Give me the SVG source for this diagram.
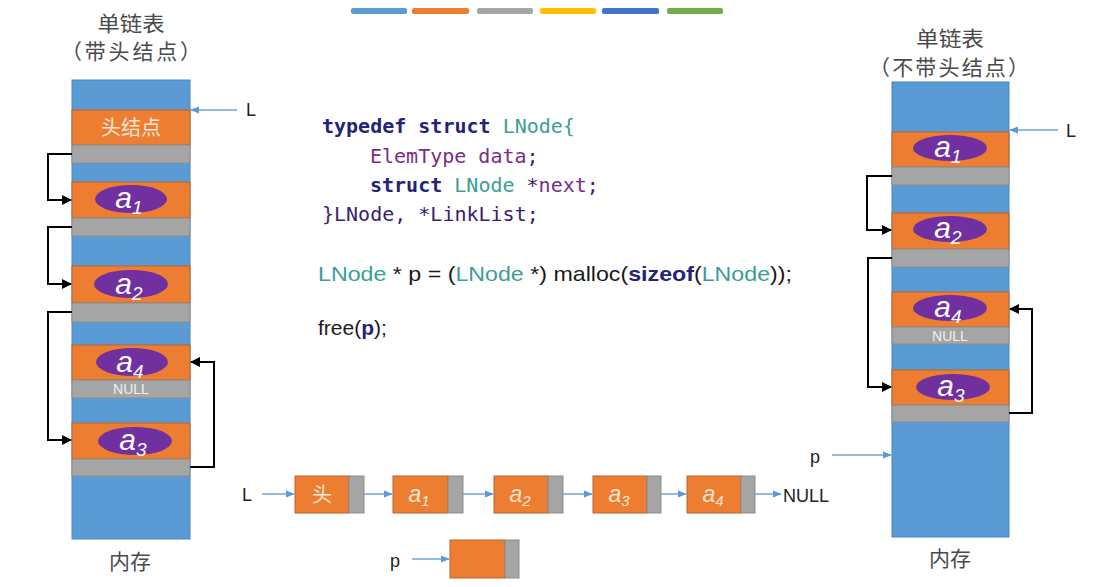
<svg xmlns="http://www.w3.org/2000/svg" width="1111" height="587" viewBox="0 0 1111 587">
<style>
.blue{fill:#5b9bd5;stroke:#4a86bd;stroke-width:1}
.org{fill:#ed7d31;stroke:#b9652a;stroke-width:1}
.gry{fill:#a5a5a5;stroke:#8c8c8c;stroke-width:1}
.ell{fill:#7030a0}
.al{font-family:"Liberation Sans",Arial,sans-serif;font-style:italic;font-size:30px;fill:#ffffff;text-anchor:middle}
.null{font-family:"Liberation Sans",Arial,sans-serif;font-size:14px;fill:#f0f0f0;text-anchor:middle}
.ttl{font-family:"Liberation Sans","Noto Sans CJK SC",sans-serif;font-size:21px;fill:#4a4a4a;text-anchor:middle}
.lbl{font-family:"Liberation Sans",Arial,sans-serif;font-size:18px;fill:#222;text-anchor:middle}
.code{font-family:"DejaVu Sans Mono","Liberation Mono",monospace;font-size:20px}
.kw{fill:#23237a;font-weight:bold}
.ty{fill:#3a9e96}
.vr{fill:#7b2a8c}
.dk{fill:#3b2070}
.c2{font-family:"Liberation Sans",Arial,sans-serif;font-size:21px;fill:#1a1a1a}
.bl{fill:none;stroke:#000;stroke-width:2}
.ba{fill:none;stroke:#6fa3d6;stroke-width:1.5}
.bx{font-family:"Liberation Sans","Noto Sans CJK SC",sans-serif;font-size:20px;fill:#fbe5d6;text-anchor:middle}
.bxa{font-family:"Liberation Sans",Arial,sans-serif;font-style:italic;font-size:23px;fill:#fbe5d6;text-anchor:middle}
</style>
<defs>
<marker id="ah" viewBox="0 0 10 10" refX="9" refY="5" markerWidth="5" markerHeight="5" orient="auto"><path d="M0,0 L10,5 L0,10 z" fill="#000"/></marker>
<marker id="bh" viewBox="0 0 10 10" refX="9" refY="5" markerWidth="6" markerHeight="6" orient="auto"><path d="M0,1 L10,5 L0,9 z" fill="#5b9bd5"/></marker>
</defs>
<rect width="1111" height="587" fill="#ffffff"/>

<g id="colorbar">
<rect x="351" y="8" width="56" height="6" rx="2" fill="#5b9bd5"/>
<rect x="412" y="8" width="57" height="6" rx="2" fill="#ed7d31"/>
<rect x="477" y="8" width="56" height="6" rx="2" fill="#a5a5a5"/>
<rect x="540" y="8" width="56" height="6" rx="2" fill="#ffc000"/>
<rect x="602" y="8" width="57" height="6" rx="2" fill="#4472c4"/>
<rect x="667" y="8" width="56" height="6" rx="2" fill="#70ad47"/>
</g>

<g id="left-memory">
<text class="ttl" x="131" y="31" textLength="67" lengthAdjust="spacingAndGlyphs">单链表</text>
<text class="ttl" x="131" y="59" textLength="140" lengthAdjust="spacing">（带头结点）</text>
<rect class="blue" x="72" y="80" width="118" height="459"/>
<rect class="org" x="72" y="110" width="118" height="35"/>
<text class="bx" x="131" y="135">头结点</text>
<rect class="gry" x="72" y="145" width="118" height="18"/>
<rect class="org" x="72" y="182" width="118" height="36"/>
<ellipse class="ell" cx="131" cy="199" rx="36" ry="14"/>
<text class="al" x="129" y="208">a<tspan font-size="19" dy="6">1</tspan></text>
<rect class="gry" x="72" y="218" width="118" height="18"/>
<rect class="org" x="72" y="266" width="118" height="37"/>
<ellipse class="ell" cx="131" cy="284" rx="37" ry="14"/>
<text class="al" x="129" y="294">a<tspan font-size="19" dy="6">2</tspan></text>
<rect class="gry" x="72" y="303" width="118" height="19"/>
<rect class="org" x="72" y="345" width="118" height="35"/>
<ellipse class="ell" cx="132" cy="362" rx="36" ry="14"/>
<text class="al" x="130" y="372">a<tspan font-size="19" dy="6">4</tspan></text>
<rect class="gry" x="72" y="380" width="118" height="18"/>
<text class="null" x="131" y="394">NULL</text>
<rect class="org" x="72" y="423" width="118" height="36"/>
<ellipse class="ell" cx="135" cy="441" rx="37" ry="14"/>
<text class="al" x="133" y="450">a<tspan font-size="19" dy="6">3</tspan></text>
<rect class="gry" x="72" y="459" width="118" height="17"/>
<text class="ttl" x="130" y="569">内存</text>
<text class="lbl" x="251" y="116">L</text>
</g>

<g id="right-memory">
<text class="ttl" x="950" y="46" textLength="68" lengthAdjust="spacingAndGlyphs">单链表</text>
<text class="ttl" x="949" y="75" textLength="160" lengthAdjust="spacing">（不带头结点）</text>
<rect class="blue" x="892" y="82" width="117" height="455"/>
<rect class="org" x="892" y="132" width="117" height="35"/>
<ellipse class="ell" cx="950" cy="148" rx="37" ry="13"/>
<text class="al" x="948" y="157">a<tspan font-size="19" dy="6">1</tspan></text>
<rect class="gry" x="892" y="167" width="117" height="18"/>
<rect class="org" x="892" y="213" width="117" height="36"/>
<ellipse class="ell" cx="950" cy="229" rx="37" ry="13"/>
<text class="al" x="948" y="238">a<tspan font-size="19" dy="6">2</tspan></text>
<rect class="gry" x="892" y="249" width="117" height="18"/>
<rect class="org" x="892" y="292" width="117" height="35"/>
<ellipse class="ell" cx="950" cy="308" rx="37" ry="13"/>
<text class="al" x="948" y="317">a<tspan font-size="19" dy="6">4</tspan></text>
<rect class="gry" x="892" y="327" width="117" height="17"/>
<text class="null" x="950" y="341">NULL</text>
<rect class="org" x="892" y="370" width="117" height="35"/>
<ellipse class="ell" cx="953" cy="387" rx="37" ry="13"/>
<text class="al" x="951" y="396">a<tspan font-size="19" dy="6">3</tspan></text>
<rect class="gry" x="892" y="405" width="117" height="17"/>
<text class="ttl" x="950" y="566">内存</text>
<text class="lbl" x="1071" y="137">L</text>
<text class="lbl" x="815" y="463">p</text>
</g>

<g id="code">
<text class="code" x="322" y="133"><tspan class="kw">typedef struct</tspan> <tspan class="ty">LNode</tspan><tspan class="ty">{</tspan></text>
<text class="code" x="370" y="163"><tspan class="vr">ElemType data</tspan><tspan class="dk">;</tspan></text>
<text class="code" x="370" y="192"><tspan class="kw">struct</tspan> <tspan class="ty">LNode</tspan> <tspan class="dk">*</tspan><tspan class="vr">next</tspan><tspan class="dk">;</tspan></text>
<text class="code" x="322" y="221"><tspan class="dk">}LNode, *LinkList;</tspan></text>
<text class="c2" x="318" y="281" textLength="474" lengthAdjust="spacingAndGlyphs"><tspan class="ty">LNode</tspan> * p = (<tspan class="ty">LNode</tspan> *) malloc(<tspan class="kw">sizeof</tspan>(<tspan class="ty">LNode</tspan>));</text>
<text class="c2" x="318" y="335">free(<tspan class="kw">p</tspan>);</text>
</g>

<g id="chain">
<text class="lbl" x="247" y="501">L</text>
<rect class="org" x="295" y="476" width="54" height="37"/><rect class="gry" x="349" y="476" width="15" height="37"/>
<text class="bx" x="322" y="502">头</text>
<rect class="org" x="393" y="476" width="55" height="37"/><rect class="gry" x="448" y="476" width="15" height="37"/>
<text class="bxa" x="419" y="502">a<tspan font-size="15" dy="4">1</tspan></text>
<rect class="org" x="494" y="476" width="54" height="37"/><rect class="gry" x="548" y="476" width="15" height="37"/>
<text class="bxa" x="520" y="502">a<tspan font-size="15" dy="4">2</tspan></text>
<rect class="org" x="593" y="476" width="54" height="37"/><rect class="gry" x="647" y="476" width="14" height="37"/>
<text class="bxa" x="619" y="502">a<tspan font-size="15" dy="4">3</tspan></text>
<rect class="org" x="687" y="476" width="54" height="37"/><rect class="gry" x="741" y="476" width="14" height="37"/>
<text class="bxa" x="713" y="502">a<tspan font-size="15" dy="4">4</tspan></text>
<text x="783" y="502" font-family="Liberation Sans,Arial,sans-serif" font-size="18" fill="#222">NULL</text>
<text class="lbl" x="395" y="567">p</text>
<rect class="org" x="450" y="540" width="55" height="38"/><rect class="gry" x="505" y="540" width="14" height="38"/>
</g>

<g id="connectors">
<path class="bl" d="M72,154 H48 V200 H71" marker-end="url(#ah)"/>
<path class="bl" d="M72,227 H48 V284 H71" marker-end="url(#ah)"/>
<path class="bl" d="M72,312 H48 V440 H71" marker-end="url(#ah)"/>
<path class="bl" d="M190,467 H214 V362 H191" marker-end="url(#ah)"/>
<path class="bl" d="M892,176 H867 V230 H891" marker-end="url(#ah)"/>
<path class="bl" d="M892,258 H868 V387 H891" marker-end="url(#ah)"/>
<path class="bl" d="M1009,413 H1032 V309 H1010" marker-end="url(#ah)"/>
<path class="ba" d="M237,110 H191" marker-end="url(#bh)"/>
<path class="ba" d="M1058,130 H1010" marker-end="url(#bh)"/>
<path class="ba" d="M832,455 H891" marker-end="url(#bh)"/>
<path class="ba" d="M262,494 H294" marker-end="url(#bh)"/>
<path class="ba" d="M364,494 H392" marker-end="url(#bh)"/>
<path class="ba" d="M463,494 H493" marker-end="url(#bh)"/>
<path class="ba" d="M563,494 H592" marker-end="url(#bh)"/>
<path class="ba" d="M661,494 H686" marker-end="url(#bh)"/>
<path class="ba" d="M755,494 H781" marker-end="url(#bh)"/>
<path class="ba" d="M412,559 H449" marker-end="url(#bh)"/>
</g>
</svg>
